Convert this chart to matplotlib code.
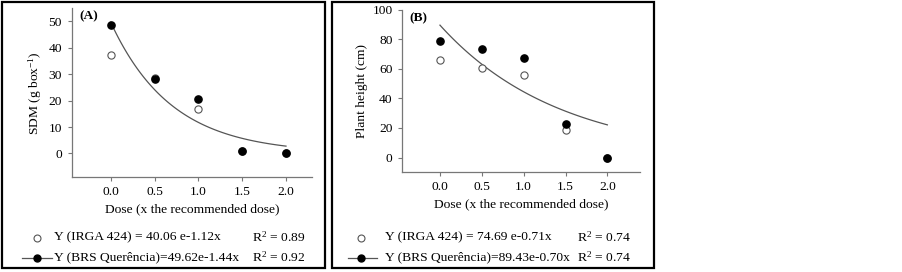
import numpy as np
import matplotlib
matplotlib.use("Agg")
import matplotlib.pyplot as plt
from matplotlib.patches import Rectangle
from matplotlib.lines import Line2D

plt.rcParams['font.family'] = ['Liberation Serif', 'DejaVu Serif']
plt.rcParams['mathtext.fontset'] = 'custom'
plt.rcParams['mathtext.rm'] = 'Liberation Serif'
plt.rcParams['mathtext.it'] = 'Liberation Serif:italic'

dose = [0.0, 0.5, 1.0, 1.5, 2.0]
sdm_irga = [37.3, 28.5, 16.7, 1.0, 0.0]
sdm_brs = [48.7, 28.3, 20.7, 1.0, 0.0]
height_irga = [66.1, 60.5, 55.5, 18.7, 0.0]
height_brs = [79.0, 73.4, 67.3, 22.8, 0.0]

# fitted model coefficients (BRS Querência curve drawn)
fit_sdm = (49.62, -1.44)
fit_height = (89.43, -0.70)

legend_a = ["Y (IRGA 424) = 40.06 e-1.12x", "Y (BRS Querência)=49.62e-1.44x"]
r2_a = ["0.89", "0.92"]
legend_b = ["Y (IRGA 424) = 74.69 e-0.71x", "Y (BRS Querência)=89.43e-0.70x"]
r2_b = ["0.74", "0.74"]

W, H = 903, 272
fig = plt.figure(figsize=(W/100, H/100), dpi=100)

FS = 9.7
SP = '#777777'
LC = '#555555'

def px(x0, y0, x1, y1):
    return [x0/W, 1 - y1/H, (x1-x0)/W, (y1-y0)/H]

def panel(rect, frame, xlim, ylim, yticks, irga, brs, fit, ylabel, tag,
          legtexts, r2s, leg_x):
    ax = fig.add_axes(px(*rect))
    ax.set_xlim(*xlim)
    ax.set_ylim(*ylim)
    for s in ['top', 'right']:
        ax.spines[s].set_visible(False)
    for s in ['left', 'bottom']:
        ax.spines[s].set_color(SP)
        ax.spines[s].set_linewidth(0.9)
    ax.set_xticks(dose)
    ax.set_xticklabels([f"{d:.1f}" for d in dose])
    ax.set_yticks(yticks)
    ax.tick_params(direction='out', length=3, width=0.8, color=SP,
                   labelsize=FS)
    ax.tick_params(axis='x', pad=3)
    ax.tick_params(axis='y', pad=4)
    xs = np.linspace(0, 2, 100)
    ax.plot(xs, fit[0]*np.exp(fit[1]*xs), color=LC, lw=0.9, zorder=2)
    ax.plot(dose, irga, 'o', mfc='white', mec='#555555', mew=0.8, ms=5.2,
            ls='none', zorder=3, clip_on=False)
    ax.plot(dose, brs, 'o', color='black', ms=5.2, ls='none', zorder=4,
            clip_on=False)
    ax.set_xlabel("Dose (x the recommended dose)", fontsize=FS, labelpad=4)
    ax.set_ylabel(ylabel, fontsize=FS, labelpad=3)
    ax.text(0.03, 0.985, tag, transform=ax.transAxes, fontsize=FS,
            fontweight='bold', va='top', ha='left')
    # frame
    x0, y0, x1, y1 = frame
    fig.patches.append(Rectangle((x0/W, 1-y1/H), (x1-x0)/W, (y1-y0)/H,
                                 transform=fig.transFigure, fill=False,
                                 ec='black', lw=1.6))
    # legend rows
    mx, lx0, lx1, tx, rx = leg_x
    rows = [237.5, 257.5]
    fig.add_artist(Line2D([mx/W], [1-rows[0]/H], marker='o', mfc='white',
                          mec='#555555', mew=0.8, ms=5, ls='none',
                          transform=fig.transFigure))
    fig.add_artist(Line2D([lx0/W, lx1/W], [1-rows[1]/H]*2, color=LC, lw=0.9,
                          transform=fig.transFigure))
    fig.add_artist(Line2D([mx/W], [1-rows[1]/H], marker='o', color='black',
                          ms=5, ls='none', transform=fig.transFigure))
    for r, t, r2 in zip(rows, legtexts, r2s):
        fig.text(tx/W, 1-r/H, t, fontsize=FS, va='center', ha='left')
        fig.text(rx/W, 1-r/H, "R$^2$ = " + r2, fontsize=FS, va='center',
                 ha='left')
    return ax

panel((71.7, 8, 312.3, 177.3), (2, 2, 325, 268), (-0.445, 2.30), (-9, 55),
      [0, 10, 20, 30, 40, 50], sdm_irga, sdm_brs, fit_sdm,
      "SDM (g box$^{-1}$)", "(A)", legend_a, r2_a,
      (37, 22, 52, 54, 252))
panel((402.3, 9.5, 640, 172.3), (332, 2, 654, 268), (-0.45, 2.39), (-10, 100),
      [0, 20, 40, 60, 80, 100], height_irga, height_brs, fit_height,
      "Plant height (cm)", "(B)", legend_b, r2_b,
      (361, 348, 377, 385, 577))

fig.savefig("out.png", dpi=100)
